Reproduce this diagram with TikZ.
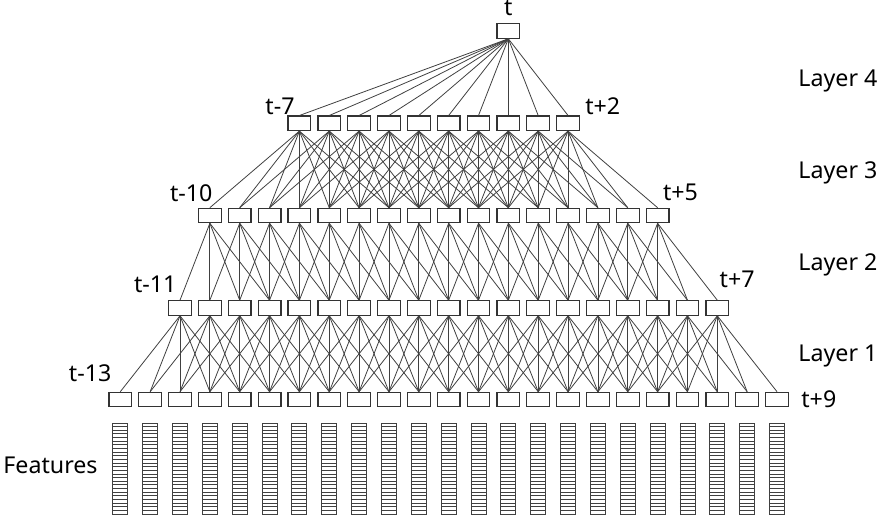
\documentclass[tikz,border=0pt]{standalone}
\usepackage{fontspec}
\setmainfont{Noto Sans}

\begin{document}
\begin{tikzpicture}[x=0.5pt, y=-0.5pt, every node/.style={font=\fontsize{11.6}{13}\selectfont},
	cell/.style={draw=black!80, line width=0.6pt, minimum width=11.35pt, minimum height=7.2pt, inner sep=0pt},
	wire/.style={draw=black!75, line width=0.4pt},
	feat/.style={draw=black!75, line width=0.45pt},
	tl/.style={inner sep=0pt}]
	\useasboundingbox (0,0) rectangle (877,524);

	% frames t-13 ... t+9 and the layers above them
	\foreach \k in {0,...,22}
		\node[cell] (in\k) at ({120.3+29.85*\k},399.5) {};
	\foreach \k in {2,...,20}
		\node[cell] (ha\k) at ({120.3+29.85*\k},308) {};
	\foreach \k in {3,...,18}
		\node[cell] (hb\k) at ({120.3+29.85*\k},215.5) {};
	\foreach \k in {6,...,15}
		\node[cell] (hc\k) at ({120.3+29.85*\k},123.3) {};
	\node[cell] (out) at ({120.3+29.85*13},31) {};

	% feature columns
	\foreach \k in {0,...,22} {
		\pgfmathsetmacro\xx{120.3+29.85*\k}
		\draw[feat] (\xx-7.5,423) rectangle (\xx+7.5,514);
		\foreach \s in {1,...,24}
			\draw[feat] (\xx-7.5,423+3.64*\s) -- (\xx+7.5,423+3.64*\s);
	}

	% Layer 1: t-2 .. t+2
	\foreach \k in {2,...,20}
		\foreach \d in {-2,...,2} {
			\pgfmathtruncatemacro\j{\k+\d}
			\draw[wire] (ha\k.south) -- (in\j.north);
		}
	% Layer 2: t-1 .. t+2
	\foreach \k in {3,...,18}
		\foreach \d in {-1,...,2} {
			\pgfmathtruncatemacro\j{\k+\d}
			\draw[wire] (hb\k.south) -- (ha\j.north);
		}
	% Layer 3: t-3 .. t+3
	\foreach \k in {6,...,15}
		\foreach \d in {-3,...,3} {
			\pgfmathtruncatemacro\j{\k+\d}
			\draw[wire] (hc\k.south) -- (hb\j.north);
		}
	% Layer 4: all of them
	\foreach \k in {6,...,15}
		\draw[wire] (out.south) -- (hc\k.north);

	% time labels
	\node[tl, anchor=base] (lt) at ([yshift=4pt]out.north) {t};
	\node[tl, anchor=base east] (lc6) at ([xshift=-2.2pt, yshift=0.5pt]hc6.north) {t-7};
	\node[tl, anchor=base west] (lc15) at ([xshift=8.4pt, yshift=0.5pt]hc15.north) {t+2};
	\node[tl, anchor=base east] (lb3) at ([xshift=1.5pt, yshift=3.3pt]hb3.north) {t-10};
	\node[tl, anchor=base west] (lb18) at ([xshift=2.5pt, yshift=3.8pt]hb18.north) {t+5};
	\node[tl, anchor=base east] (la2) at ([xshift=-1.6pt, yshift=3.7pt]ha2.north) {t-11};
	\node[tl, anchor=base west] (la20) at ([xshift=1pt, yshift=6.2pt]ha20.north) {t+7};
	\node[tl, anchor=base east] (lin0) at ([xshift=-4.3pt, yshift=5.1pt]in0.north) {t-13};
	\node[tl, anchor=west] (lin22) at ([xshift=6pt]in22.east) {t+9};

	% layer names
	\node[tl, anchor=base west] (l4) at (798,86.7) {Layer 4};
	\node[tl, anchor=base west] (l3) at (798,178.3) {Layer 3};
	\node[tl, anchor=base west] (l2) at (798,270) {Layer 2};
	\node[tl, anchor=base west] (l1) at (798,361.7) {Layer 1};
	\node[tl, anchor=base west] (feats) at (3,473) {Features};
\end{tikzpicture}
\end{document}
